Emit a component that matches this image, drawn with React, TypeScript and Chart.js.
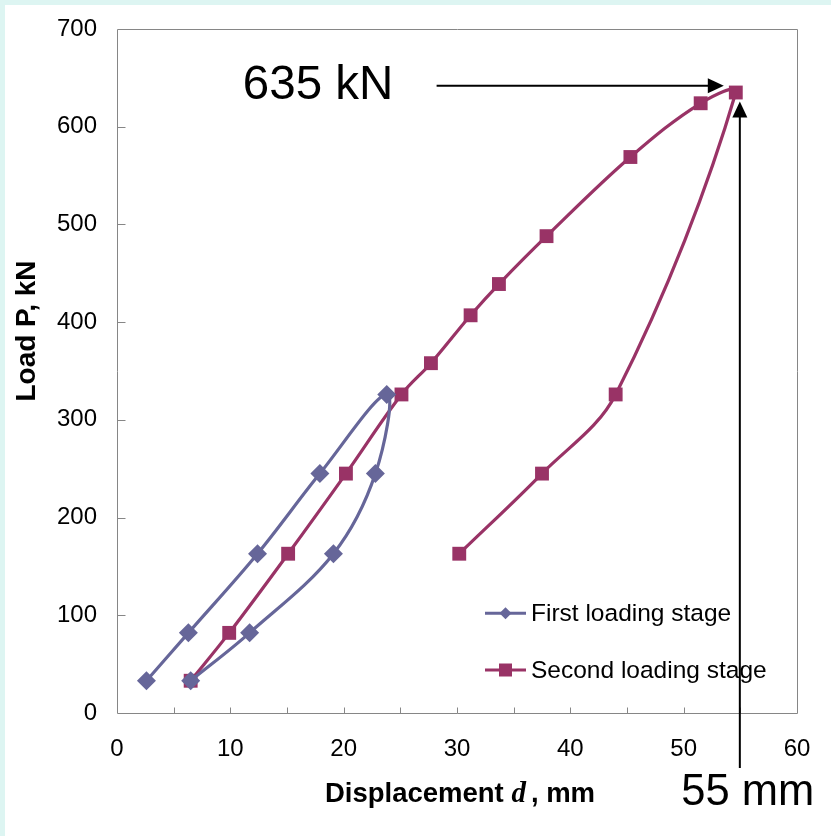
import React, { useEffect, useRef } from 'react';
import { Chart, registerables } from 'chart.js';

Chart.register(...registerables);

// ---- Data ----
const FIRST_DISP = [2.6, 6.3, 12.4, 17.9, 23.8, 22.8, 19.1, 11.7, 6.5];
const FIRST_LOAD = [33, 82, 163, 245, 326, 245, 163, 82, 33];

const SECOND_DISP = [6.5, 9.9, 15.1, 20.2, 25.1, 27.7, 31.2, 33.7, 37.9, 45.3, 51.5, 54.6, 44.0, 37.5, 30.2];
const SECOND_LOAD = [33, 82, 163, 245, 326, 358, 407, 439, 488, 569, 624, 635, 326, 245, 163];

const SERIES_NAMES = ['First loading stage', 'Second loading stage'];
const X_MIN = 0;
const X_MAX = 60;
const X_STEP = 5;
const X_LABEL_STEP = 10;
const Y_MIN = 0;
const Y_MAX = 700;
const Y_STEP = 100;

const PEAK_DISP = 54.6;
const PEAK_LOAD = 635;
const MARK_DISP = 55; // vertical arrow position (55 mm)
const ARROW_LOAD = 642; // horizontal arrow level
const PEAK_LOAD_LABEL = '635 kN';
const PEAK_DISP_LABEL = '55 mm';
const X_TITLE_PARTS = ['Displacement ', 'd', ', mm'];
const Y_TITLE = 'Load P, kN';

const COLOR_FIRST = '#666699';
const COLOR_SECOND = '#993366';
const SANS = "'Liberation Sans', Arial, Helvetica, sans-serif";
const SERIF = "'Liberation Serif', 'Times New Roman', serif";

const decorPlugin = {
  id: 'decor',
  beforeDatasetsDraw(chart: any) {
    const { ctx, chartArea: a, scales } = chart;
    const xs = scales.x;
    const ys = scales.y;
    ctx.save();
    ctx.strokeStyle = '#868686';
    ctx.lineWidth = 1;
    const l = Math.round(a.left) + 0.5;
    const t = Math.round(a.top) + 0.5;
    const r = Math.round(a.right) + 0.5;
    const b = Math.round(a.bottom) + 0.5;
    ctx.beginPath();
    ctx.moveTo(l, t);
    ctx.lineTo(r, t);
    ctx.lineTo(r, b);
    ctx.lineTo(l, b);
    ctx.closePath();
    ctx.stroke();
    ctx.beginPath();
    for (let v = X_MIN + X_STEP; v < X_MAX; v += X_STEP) {
      const px = Math.round(xs.getPixelForValue(v)) + 0.5;
      ctx.moveTo(px, b);
      ctx.lineTo(px, b - 6);
    }
    for (let v = Y_MIN + Y_STEP; v < Y_MAX; v += Y_STEP) {
      const py = Math.round(ys.getPixelForValue(v)) + 0.5;
      ctx.moveTo(l, py);
      ctx.lineTo(l + 8, py);
    }
    ctx.stroke();
    ctx.restore();
  },
  afterDraw(chart: any) {
    const { ctx, chartArea: a, scales } = chart;
    const xs = scales.x;
    const ys = scales.y;
    ctx.save();
    ctx.fillStyle = '#000';
    ctx.textBaseline = 'alphabetic';

    // Y title
    ctx.save();
    ctx.translate(a.left - 90, (a.top + a.bottom) / 2 - 40);
    ctx.rotate(-Math.PI / 2);
    ctx.font = `bold 28px ${SANS}`;
    ctx.textAlign = 'center';
    ctx.textBaseline = 'middle';
    ctx.fillText(Y_TITLE, 0, 0);
    ctx.restore();

    // X title (mixed fonts)
    const f1 = `bold 27.5px ${SANS}`;
    const f2 = `bold italic 29px ${SERIF}`;
    ctx.font = f1;
    const w1 = ctx.measureText(X_TITLE_PARTS[0]).width;
    const w3 = ctx.measureText(X_TITLE_PARTS[2]).width;
    ctx.font = f2;
    const w2 = ctx.measureText(X_TITLE_PARTS[1]).width;
    const gap = 5;
    const total = w1 + w2 + gap + w3;
    let tx = (a.left + a.right) / 2 + 3 - total / 2;
    const ty = a.bottom + 89;
    ctx.textAlign = 'left';
    ctx.font = f1;
    ctx.fillText(X_TITLE_PARTS[0], tx, ty);
    tx += w1;
    ctx.font = f2;
    ctx.fillText(X_TITLE_PARTS[1], tx, ty);
    tx += w2 + gap;
    ctx.font = f1;
    ctx.fillText(X_TITLE_PARTS[2], tx, ty);

    // Legend
    const lx = a.left + 368;
    const items = [
      { name: SERIES_NAMES[0], color: COLOR_FIRST, style: 'diamond', y: ys.getPixelForValue(102) },
      { name: SERIES_NAMES[1], color: COLOR_SECOND, style: 'square', y: ys.getPixelForValue(44) },
    ];
    items.forEach((it) => {
      ctx.strokeStyle = it.color;
      ctx.fillStyle = it.color;
      ctx.lineWidth = 3;
      ctx.beginPath();
      ctx.moveTo(lx, it.y);
      ctx.lineTo(lx + 41, it.y);
      ctx.stroke();
      const cx = lx + 20.5;
      ctx.beginPath();
      if (it.style === 'diamond') {
        const s = 6;
        ctx.moveTo(cx, it.y - s);
        ctx.lineTo(cx + s, it.y);
        ctx.lineTo(cx, it.y + s);
        ctx.lineTo(cx - s, it.y);
        ctx.closePath();
      } else {
        ctx.rect(cx - 6.5, it.y - 6.5, 13, 13);
      }
      ctx.fill();
      ctx.fillStyle = '#000';
      ctx.font = `24.5px ${SANS}`;
      ctx.textAlign = 'left';
      ctx.textBaseline = 'middle';
      ctx.fillText(it.name, lx + 46, it.y + 1);
    });

    // Annotations
    ctx.strokeStyle = '#000';
    ctx.fillStyle = '#000';
    ctx.lineWidth = 2;
    const peakX = xs.getPixelForValue(PEAK_DISP);
    const peakY = ys.getPixelForValue(PEAK_LOAD);
    const hy = ys.getPixelForValue(ARROW_LOAD);
    const hTip = peakX - 12;
    const hStart = xs.getPixelForValue(28.2);
    ctx.beginPath();
    ctx.moveTo(hStart, hy);
    ctx.lineTo(hTip - 14, hy);
    ctx.stroke();
    ctx.beginPath();
    ctx.moveTo(hTip, hy);
    ctx.lineTo(hTip - 16, hy - 7.5);
    ctx.lineTo(hTip - 16, hy + 7.5);
    ctx.closePath();
    ctx.fill();

    ctx.font = `47.5px ${SANS}`;
    ctx.textAlign = 'left';
    ctx.textBaseline = 'alphabetic';
    ctx.fillText(PEAK_LOAD_LABEL, xs.getPixelForValue(11.1), hy + 13);

    const vx = xs.getPixelForValue(MARK_DISP) - 0.5;
    const vTip = peakY + 9;
    const vBottom = a.bottom + 55;
    ctx.beginPath();
    ctx.moveTo(vx, vBottom);
    ctx.lineTo(vx, vTip + 14);
    ctx.stroke();
    ctx.beginPath();
    ctx.moveTo(vx, vTip);
    ctx.lineTo(vx - 7.5, vTip + 16);
    ctx.lineTo(vx + 7.5, vTip + 16);
    ctx.closePath();
    ctx.fill();

    ctx.font = `43.5px ${SANS}`;
    ctx.textAlign = 'center';
    ctx.fillText(PEAK_DISP_LABEL, vx + 8, a.bottom + 92);

    ctx.restore();
  },
};

export default function App() {
  const canvasRef = useRef<HTMLCanvasElement | null>(null);

  useEffect(() => {
    const canvas = canvasRef.current;
    if (!canvas) return;
    const chart = new Chart(canvas, {
      type: 'scatter',
      data: {
        datasets: [
          {
            label: SERIES_NAMES[0],
            data: FIRST_DISP.map((d, i) => ({ x: d, y: FIRST_LOAD[i] })),
            showLine: true,
            borderColor: COLOR_FIRST,
            backgroundColor: COLOR_FIRST,
            borderWidth: 3.2,
            tension: 0.35,
            pointStyle: 'rectRot',
            pointRadius: 9.5,
            pointBorderWidth: 0,
            pointBackgroundColor: COLOR_FIRST,
          },
          {
            label: SERIES_NAMES[1],
            data: SECOND_DISP.map((d, i) => ({ x: d, y: SECOND_LOAD[i] })),
            showLine: true,
            borderColor: COLOR_SECOND,
            backgroundColor: COLOR_SECOND,
            borderWidth: 3.2,
            tension: 0.35,
            pointStyle: 'rect',
            pointRadius: 9.8,
            pointBorderWidth: 0,
            pointBackgroundColor: COLOR_SECOND,
          },
        ],
      } as any,
      options: {
        animation: false,
        responsive: false,
        maintainAspectRatio: false,
        events: [],
        layout: { padding: { left: 0, top: 29, right: 34, bottom: 0 } },
        plugins: {
          legend: { display: false },
          tooltip: { enabled: false },
        },
        scales: {
          x: {
            type: 'linear',
            min: X_MIN,
            max: X_MAX,
            ticks: {
              stepSize: X_STEP,
              autoSkip: false,
              maxRotation: 0,
              padding: 22,
              color: '#000',
              font: { family: SANS, size: 24 },
              callback: (v: any) => (Number(v) % X_LABEL_STEP === 0 ? String(v) : ''),
            },
            grid: { display: false, drawTicks: false },
            border: { display: false },
            afterFit: (s: any) => {
              s.height = 123;
              s.paddingLeft = 0;
              s.paddingRight = 0;
              s.paddingTop = 0;
              s.paddingBottom = 0;
            },
          },
          y: {
            type: 'linear',
            min: Y_MIN,
            max: Y_MAX,
            ticks: {
              stepSize: Y_STEP,
              padding: 20,
              color: '#000',
              font: { family: SANS, size: 24 },
            },
            grid: { display: false, drawTicks: false },
            border: { display: false },
            afterFit: (s: any) => {
              s.width = 117;
              s.paddingLeft = 0;
              s.paddingRight = 0;
              s.paddingTop = 0;
              s.paddingBottom = 0;
            },
          },
        },
      } as any,
      plugins: [decorPlugin],
    });
    return () => chart.destroy();
  }, []);

  return (
    <div style={{ position: 'fixed', left: 0, top: 0, width: 831, height: 836, background: '#ddf5f2' }}>
      <div style={{ position: 'absolute', left: 5, top: 5, right: 0, bottom: 0, background: '#ffffff' }} />
      <canvas
        ref={canvasRef}
        width={831}
        height={836}
        style={{ position: 'absolute', left: 0, top: 0, width: 831, height: 836, display: 'block' }}
      />
    </div>
  );
}
